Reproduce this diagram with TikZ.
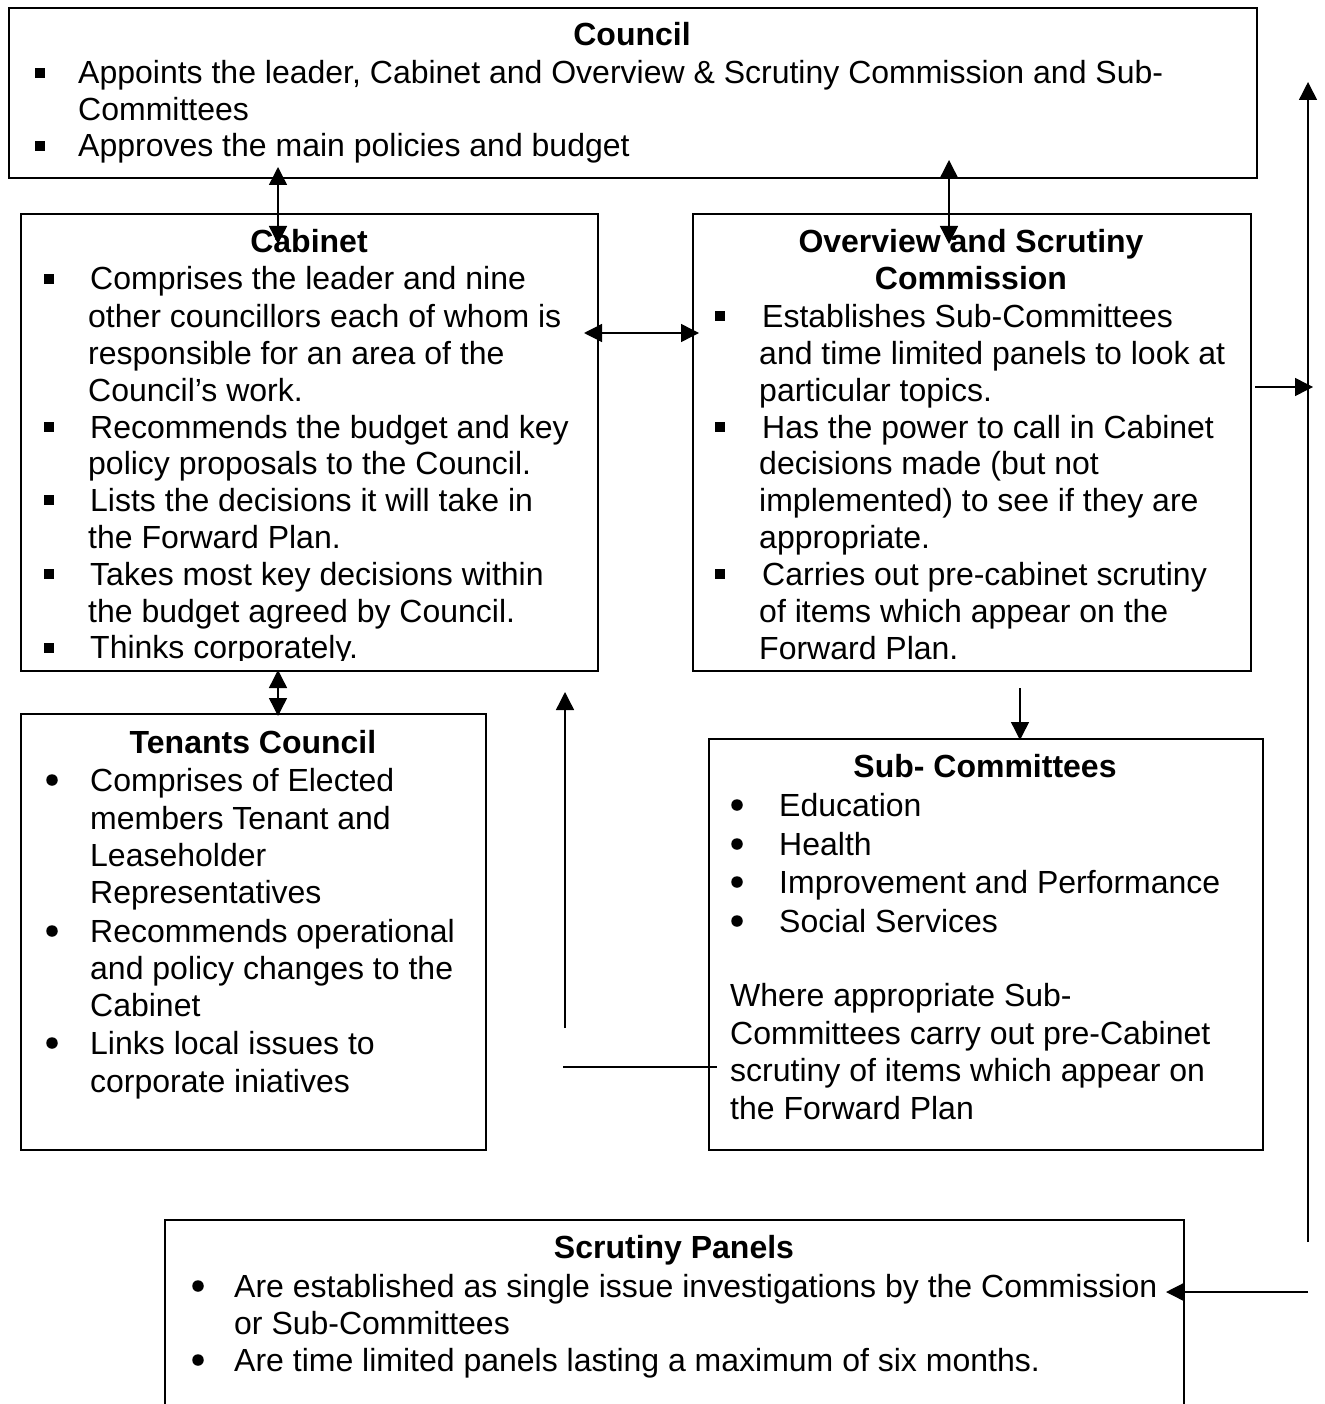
\documentclass[tikz,border=0pt]{standalone}
\usepackage{fontspec}
\setmainfont{Liberation Sans}
\usetikzlibrary{arrows.meta}
\newcommand\tline[4]{\node[txt] (#1) at (#2,#3) {#4};}
\newcommand\tttl[4]{\node[ttlsty] (#1) at (#2,#3) {#4};}
\newcommand\mysq[3]{\node[sqbul] (#1) at (#2,#3) {};}
\newcommand\myrd[3]{\node[rdbul] (#1) at (#2,#3) {};}
\tikzset{
  box/.style={draw, line width=1.6pt, anchor=north west, inner sep=0pt},
  txt/.style={anchor=base west, inner sep=0pt, font=\fontsize{32}{37}\selectfont},
  ttlsty/.style={anchor=base, inner sep=0pt, font=\fontsize{32}{37}\selectfont\bfseries},
  sqbul/.style={fill, minimum size=10pt, inner sep=0pt},
  rdbul/.style={circle, fill, minimum size=11.5pt, inner sep=0pt},
  tip/.tip={Triangle[length=18pt,width=18pt]},
  conn/.style={line width=1.4pt},
}
\begin{document}
\begin{tikzpicture}[x=1pt,y=-1pt]
\clip (0,0) rectangle (1324,1404);
\fill[white] (0,0) rectangle (1324,1404);

% ---------- Council ----------
\node[box, minimum width=1248pt, minimum height=170pt] (council) at (8,7) {};
\tttl{councilT}{632}{46}{Council}
\mysq{cob1}{40}{73}
\tline{co1}{78}{84}{Appoints the leader, Cabinet and Overview \& Scrutiny Commission and Sub-}
\tline{co2}{78}{121}{Committees}
\mysq{cob2}{40}{146}
\tline{co3}{78}{157}{Approves the main policies and budget}

% ---------- Cabinet ----------
\node[box, minimum width=577pt, minimum height=457pt] (cabinet) at (20,213) {};
\begin{scope}
\clip (21,214) rectangle (596,660);
\tttl{cabT}{309}{253}{Cabinet}
\mysq{cab1}{49}{279}
\tline{ca1}{90}{290}{Comprises the leader and nine}
\tline{ca2}{88}{327}{other councillors each of whom is}
\tline{ca3}{88}{364}{responsible for an area of the}
\tline{ca4}{88}{401}{Council’s work.}
\mysq{cab2}{49}{427}
\tline{ca5}{90}{438}{Recommends the budget and key}
\tline{ca6}{88}{474}{policy proposals to the Council.}
\mysq{cab3}{49}{500}
\tline{ca7}{90}{511}{Lists the decisions it will take in}
\tline{ca8}{88}{548}{the Forward Plan.}
\mysq{cab4}{49}{574}
\tline{ca9}{90}{585}{Takes most key decisions within}
\tline{ca10}{88}{622}{the budget agreed by Council.}
\mysq{cab5}{49}{648}
\tline{ca11}{90}{658}{Thinks corporately.}
\end{scope}

% ---------- Overview and Scrutiny ----------
\node[box, minimum width=558pt, minimum height=457pt] (overview) at (692,213) {};
\begin{scope}
\clip (693,214) rectangle (1249,662);
\tttl{ovT1}{971}{253}{Overview and Scrutiny}
\tttl{ovT2}{971}{290}{Commission}
\mysq{ovb1}{720}{316}
\tline{ov1}{762}{327}{Establishes Sub-Committees}
\tline{ov2}{759}{364}{and time limited panels to look at}
\tline{ov3}{759}{401}{particular topics.}
\mysq{ovb2}{720}{427}
\tline{ov4}{762}{438}{Has the power to call in Cabinet}
\tline{ov5}{759}{474}{decisions made (but not}
\tline{ov6}{759}{511}{implemented) to see if they are}
\tline{ov7}{759}{548}{appropriate.}
\mysq{ovb3}{720}{574}
\tline{ov8}{762}{585}{Carries out pre-cabinet scrutiny}
\tline{ov9}{759}{622}{of items which appear on the}
\tline{ov10}{759}{659}{Forward Plan.}
\end{scope}

% ---------- Tenants Council ----------
\node[box, minimum width=465pt, minimum height=436pt] (tenants) at (20,713) {};
\tttl{tenT}{253}{753}{Tenants Council}
\myrd{teb1}{52}{780}
\tline{te1}{90}{791}{Comprises of Elected}
\tline{te2}{90}{829}{members Tenant and}
\tline{te3}{90}{866}{Leaseholder}
\tline{te4}{90}{903}{Representatives}
\myrd{teb2}{52}{931}
\tline{te5}{90}{942}{Recommends operational}
\tline{te6}{90}{979}{and policy changes to the}
\tline{te7}{90}{1016}{Cabinet}
\myrd{teb3}{52}{1043}
\tline{te8}{90}{1054}{Links local issues to}
\tline{te9}{90}{1092}{corporate iniatives}

% ---------- Sub-Committees ----------
\node[box, minimum width=554pt, minimum height=411pt] (sub) at (708,738) {};
\tttl{subT}{985}{777}{Sub- Committees}
\myrd{sub1}{737}{805}
\tline{su1}{779}{816}{Education}
\myrd{sub2}{737}{844}
\tline{su2}{779}{855}{Health}
\myrd{sub3}{737}{882}
\tline{su3}{779}{893}{Improvement and Performance}
\myrd{sub4}{737}{921}
\tline{su4}{779}{932}{Social Services}
\tline{su5}{730}{1006}{Where appropriate Sub-}
\tline{su6}{730}{1044}{Committees carry out pre-Cabinet}
\tline{su7}{730}{1081}{scrutiny of items which appear on}
\tline{su8}{730}{1119}{the Forward Plan}

% ---------- Scrutiny Panels ----------
\node[box, minimum width=1019pt, minimum height=260pt] (panels) at (164,1219) {};
\tttl{panT}{674}{1258}{Scrutiny Panels}
\myrd{pab1}{198}{1286}
\tline{pa1}{234}{1297}{Are established as single issue investigations by the Commission}
\tline{pa2}{234}{1334}{or Sub-Committees}
\myrd{pab2}{198}{1360}
\tline{pa3}{234}{1371}{Are time limited panels lasting a maximum of six months.}

% ---------- connector end points ----------
\coordinate (cc1) at (278,167);
\coordinate (cc2) at (278,244);
\coordinate (co1a) at (949,160);
\coordinate (co2a) at (949,244);
\coordinate (cab-r) at (584,333);
\coordinate (ov-l) at (699,333);
\coordinate (ct1) at (278,670);
\coordinate (ct2) at (278,716);
\coordinate (os1) at (1020,688);
\coordinate (os2) at (1020,740);
\coordinate (rtop) at (1308,82);
\coordinate (rbot) at (1308,1242);
\coordinate (ovr) at (1255,387);
\coordinate (ovr2) at (1313,387);
\coordinate (pr1) at (1308,1292);
\coordinate (pr2) at (1166,1292);
\coordinate (lv1) at (565,1028);
\coordinate (lv2) at (565,692);
\coordinate (lh1) at (563,1067);
\coordinate (lh2) at (717,1067);

% ---------- connectors ----------
\draw[conn, tip-tip] (cc1) -- (cc2);
\draw[conn, tip-tip] (co1a) -- (co2a);
\draw[conn, tip-tip] (cab-r) -- (ov-l);
\draw[conn, tip-tip] (ct1) -- (ct2);
\draw[conn, -tip] (os1) -- (os2);
\draw[conn, -tip] (rbot) -- (rtop);
\draw[conn, -tip] (ovr) -- (ovr2);
\draw[conn, -tip] (pr1) -- (pr2);
\draw[conn, -tip] (lv1) -- (lv2);
\draw[conn] (lh1) -- (lh2);
\end{tikzpicture}
\end{document}
